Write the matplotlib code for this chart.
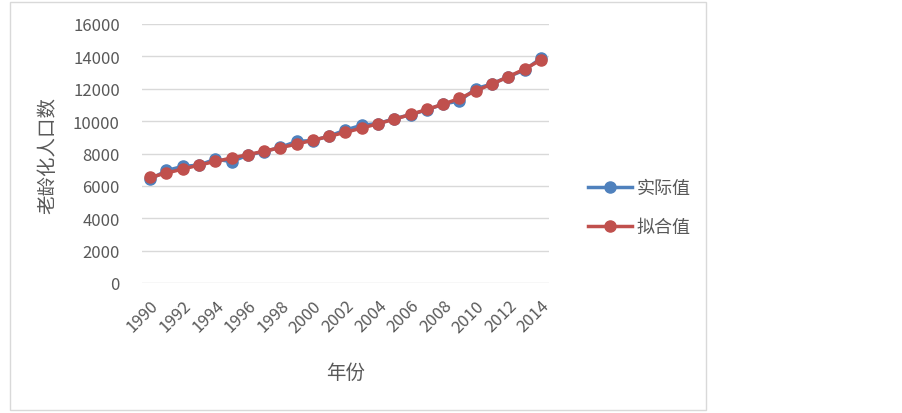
import matplotlib
matplotlib.use("Agg")
import matplotlib.pyplot as plt
from matplotlib.patches import Rectangle

plt.rcParams['font.family'] = ['Noto Sans CJK SC', 'DejaVu Sans']

years = list(range(1990, 2015))
actual = [6400, 6950, 7200, 7280, 7650, 7500, 7900, 8120, 8380, 8750,
          8800, 9080, 9450, 9750, 9850, 10150, 10400, 10700, 11050, 11250,
          12000, 12300, 12750, 13150, 13880]
fitted = [6530, 6790, 7040, 7280, 7510, 7720, 7930, 8140, 8360, 8580,
          8820, 9060, 9310, 9570, 9840, 10120, 10410, 10720, 11050, 11400,
          11870, 12290, 12740, 13220, 13770]
series_names = ['实际值', '拟合值']
x_title = '年份'
y_title = '老龄化人口数'
yticks = list(range(0, 16001, 2000))
xticks = list(range(1990, 2015, 2))

W, H = 903, 414
fig = plt.figure(figsize=(W / 100, H / 100), dpi=100)

# outer chart border
fig.patches.append(Rectangle((10 / W, 3 / H), (706 - 10) / W, (411 - 3) / H,
                             transform=fig.transFigure, fill=False,
                             edgecolor='#d9d9d9', linewidth=1.0))

left, right, top, bottom = 142, 549, 25, 284
ax = fig.add_axes([left / W, 1 - bottom / H, (right - left) / W, (bottom - top) / H])

blue = '#4F81BD'
red = '#C0504D'
l1, = ax.plot(years, actual, color=blue, lw=2.5, marker='o', ms=8, label=series_names[0], zorder=3)
l2, = ax.plot(years, fitted, color=red, lw=2.5, marker='o', ms=8, label=series_names[1], zorder=4)

ax.set_xlim(1989.5, 2014.5)
ax.set_ylim(0, 16000)
ax.set_yticks(yticks)
ax.set_yticklabels([str(v) for v in yticks])
ax.set_xticks(xticks)
ax.set_xticklabels([str(v) for v in xticks], rotation=45, ha='right', rotation_mode='anchor')
ax.grid(axis='y', color='#d9d9d9', lw=1.0)
ax.set_axisbelow(True)
for s in ['top', 'right', 'left', 'bottom']:
    ax.spines[s].set_visible(False)
ax.tick_params(axis='both', length=0, colors='#595959', labelsize=12)
ax.tick_params(axis='y', pad=16)
ax.tick_params(axis='x', pad=10)

fig.text(346 / W, 1 - 373 / H, x_title, ha='center', va='center', fontsize=14, color='#595959')
fig.text(48 / W, 1 - 155 / H, y_title, ha='center', va='center', fontsize=14, color='#595959', rotation=90)

fig.legend(handles=[l1, l2], loc='upper left', bbox_to_anchor=(572 / W, 1 - 164 / H),
           frameon=False, fontsize=13, labelcolor='#595959', handlelength=2.4,
           labelspacing=1.15, handletextpad=0.3)

fig.savefig('out.png', dpi=100)
